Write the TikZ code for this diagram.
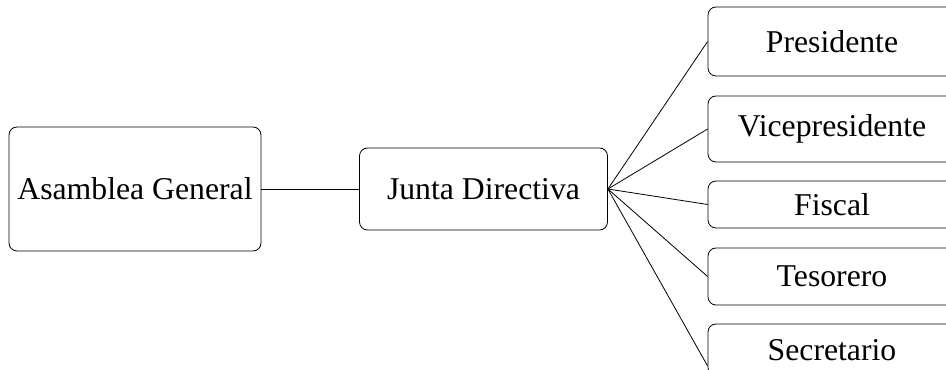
\documentclass[tikz,border=0pt]{standalone}
\usepackage{fontspec}
\setmainfont{Liberation Serif}
\usepackage{tikz}
\usetikzlibrary{positioning}

\begin{document}
\begin{tikzpicture}[x=0.75pt,y=-0.75pt]

\tikzstyle{box}=[rectangle, draw, line width=0.6pt, rounded corners=6pt, minimum width=186pt, font=\fontsize{23.8}{28}\selectfont]
\tikzstyle{line}=[line width=0.6pt]

\useasboundingbox (0,0) rectangle (946,370);
\clip (0,0) rectangle (946,370);

\node (asamblea) [box, minimum width=189pt, minimum height=93pt] at (135,189) {Asamblea General};
\node (junta) [box, minimum height=61.5pt] at (483.5,189) {Junta Directiva};

\node (presidente) [box, minimum height=51.75pt] at (832,41.5) {Presidente};
\node (vice) [box, minimum height=49.5pt] at (832,129) {Vicepresidente};
\node (fiscal) [box, minimum height=35.25pt] at (832,204.5) {Fiscal};
\node (tesorero) [box, minimum height=42.75pt] at (832,276.5) {Tesorero};
\node (secretario) [box, minimum height=39pt] at (832,350) {Secretario};

\draw[line] (asamblea) -- (junta);
\foreach \r in {presidente,vice,fiscal,tesorero}
  \draw[line] (junta.east) -- (\r.west);
\draw[line] (junta.east) -- ([yshift=-12pt]secretario.west);
\end{tikzpicture}
\end{document}
